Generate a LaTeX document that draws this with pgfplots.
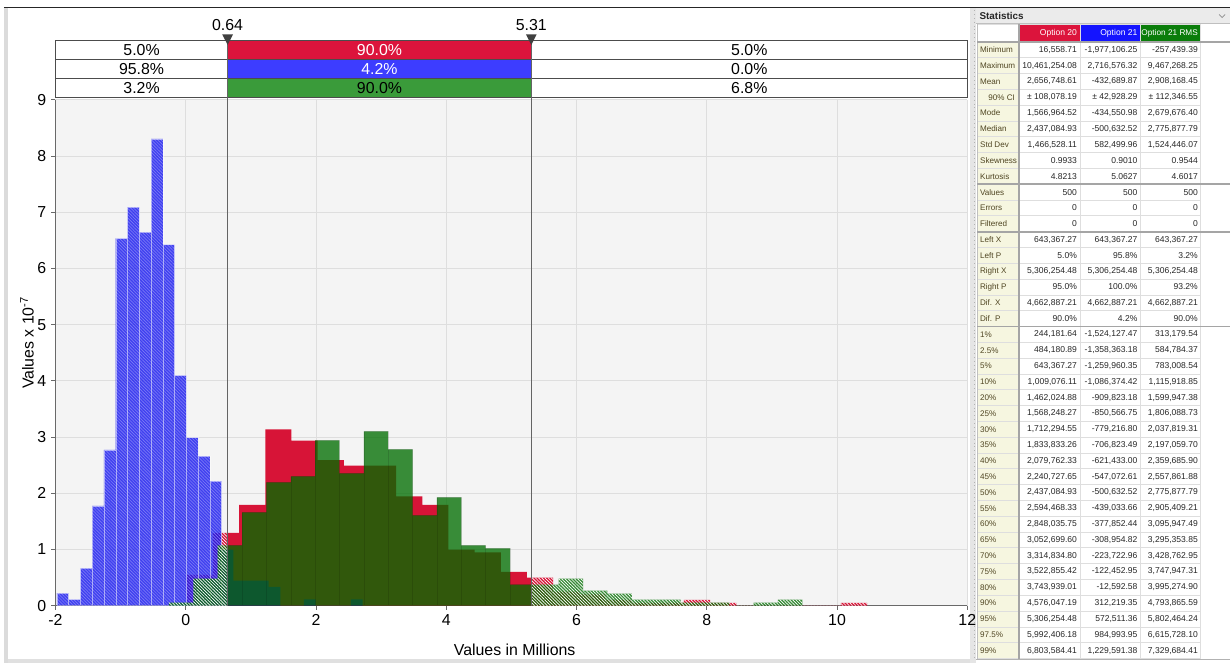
\documentclass[border=0pt]{standalone}
\usepackage{pgfplots}
\pgfplotsset{compat=1.18}
\usepackage{pgfplotstable}
\usepackage{fontspec}
\setmainfont{Liberation Sans}
\usetikzlibrary{patterns.meta}

\definecolor{c20}{RGB}{220,20,60}
\definecolor{c21}{RGB}{61,61,255}
\definecolor{c21r}{RGB}{58,155,58}
\definecolor{h20}{RGB}{220,20,60}
\definecolor{h21}{RGB}{20,20,255}
\definecolor{h21r}{RGB}{10,125,10}
\definecolor{redbar}{RGB}{215,20,55}
\definecolor{bluebar}{RGB}{20,20,240}
\definecolor{greenbar}{RGB}{0,109,0}
\definecolor{plotbg}{RGB}{244,244,244}
\definecolor{gridc}{RGB}{222,222,222}
\definecolor{axisc}{RGB}{105,105,105}
\definecolor{vlinec}{RGB}{100,100,100}
\definecolor{labbg}{RGB}{246,246,224}
\definecolor{labc}{RGB}{80,70,35}
\definecolor{tgrid}{RGB}{222,222,222}
\definecolor{tsep}{RGB}{165,165,165}

\newcommand\bigfont{\fontsize{10.6}{12}\selectfont}
\newcommand\tabfont{\fontsize{5.7}{6.5}\selectfont}
\newcommand\labfont{\fontsize{5.4}{6.5}\selectfont}

\pgfplotstableread{
x y
-1.9771 0.2216
-1.7966 0.1108
-1.6161 0.6647
-1.4355 1.7725
-1.2550 2.7696
-1.0745 6.5363
-0.8940 7.0902
-0.7134 6.6470
-0.5329 8.3088
-0.3524 6.4255
-0.1718 4.0990
0.0087 2.9912
0.1892 2.6588
0.3697 2.2157
0.5503 0.9971
0.7308 0.4431
0.9113 0.4431
1.0918 0.4431
1.2724 0.3324
1.4529 0
1.6334 0
1.8139 0.1108
1.9945 0
2.1750 0
2.3555 0
2.5361 0.1108
2.7166 0
}\bluetab

\pgfplotstableread{
x y
0.0166 0.5476
0.4183 1.2944
0.8200 1.7923
1.2217 3.1365
1.6235 2.9374
2.0252 2.5889
2.4269 2.4893
2.8286 2.4893
3.2303 1.9417
3.6321 1.7923
4.0338 0.9957
4.4355 0.9459
4.8372 0.5974
5.2389 0.4979
5.6407 0.2489
6.0424 0.1991
6.4441 0.0996
6.8458 0.0498
7.2475 0.0498
7.6493 0.0996
8.0510 0.0498
8.4527 0
8.8544 0
9.2561 0
9.6579 0
10.0596 0.0498
10.4613 0
}\redtab

\pgfplotstableread{
x y
-0.2574 0.0535
0.1166 0.4812
0.4907 1.0694
0.8647 1.6576
1.2387 2.1924
1.6127 2.2993
1.9868 2.9410
2.3608 2.3528
2.7348 3.1014
3.1088 2.7805
3.4829 1.6042
3.8569 1.9250
4.2309 1.0694
4.6049 1.0160
4.9790 0.3743
5.3530 0.3743
5.7270 0.4812
6.1010 0.2674
6.4751 0.2139
6.8491 0.1069
7.2231 0.1069
7.5971 0.0535
7.9712 0.0535
8.3452 0
8.7192 0.0535
9.0932 0.1069
9.4673 0
}\greentab

\tikzset{
  hatch/.style={postaction={fill opacity=0.14, pattern={Lines[angle=-45,distance=1.5pt,line width=0.45pt]}, pattern color=white}},
  lab/.style={anchor=west, inner sep=0pt, font=\labfont, text=labc},
  val/.style={anchor=east, inner sep=0pt, font=\tabfont, text=black!85},
}

\newcommand\strow[5]{%
  \pgfmathsetmacro\ry{49.9+(#1-1)*15.82}%
  \node[lab] at (980.5,\ry) {#2};
  \node[val] at (1078,\ry) {#3};
  \node[val] at (1138.5,\ry) {#4};
  \node[val] at (1199,\ry) {#5};
}

\begin{document}
\begin{tikzpicture}
\begin{scope}[x=0.66667pt,y=-0.66667pt]
  \path[use as bounding box, fill=white] (0,0) rectangle (1231,663);
  \fill[black!14] (4,8) rectangle (8,663);
  \fill[black!10] (971,8) rectangle (977,663);
  \draw[black!30, dotted, line width=0.6pt] (975,10) -- (975,660);
  \draw[black!85, line width=0.9pt] (4,7.5) -- (1231,7.5);
  \fill[black!12] (8,659.5) rectangle (971,663);
\end{scope}

\begin{axis}[
  at={(37.0pt,-404.0pt)}, anchor=south west,
  scale only axis, width=608.33pt, height=337.33pt,
  xmin=-2, xmax=12, ymin=0, ymax=9,
  xtick={-2,0,2,4,6,8,10,12}, ytick={0,1,2,3,4,5,6,7,8,9},
  axis x line*=bottom, axis y line*=left,
  axis line style={axisc, line width=0.75pt},
  tick align=outside, major tick length=2.67pt,
  tick style={axisc, line width=0.6pt},
  grid=major, major grid style={gridc, line width=0.6pt},
  axis background/.style={fill=plotbg},
  ticklabel style={font=\bigfont, text=black},
  /pgf/number format/assume math mode=true,
  clip=false,
]
\begin{scope}
  \clip (axis cs:-2,0) rectangle (axis cs:0.6434,9) (axis cs:5.3063,0) rectangle (axis cs:12,9);
  \addplot[ybar interval, fill=redbar, draw=none, hatch] table[x=x,y=y] {\redtab};
  \addplot[ybar interval, fill=bluebar, fill opacity=0.8, draw=white, draw opacity=0.3, line width=0.3pt, hatch] table[x=x,y=y] {\bluetab};
  \addplot[ybar interval, fill=greenbar, fill opacity=0.77, draw=none, hatch] table[x=x,y=y] {\greentab};
\end{scope}
\begin{scope}
  \clip (axis cs:0.6434,0) rectangle (axis cs:5.3063,9);
  \addplot[ybar interval, fill=redbar, draw=none] table[x=x,y=y] {\redtab};
  \addplot[ybar interval, fill=bluebar, fill opacity=0.8, draw=none] table[x=x,y=y] {\bluetab};
  \addplot[ybar interval, fill=greenbar, fill opacity=0.77, draw=black, draw opacity=0.12, line width=0.3pt] table[x=x,y=y] {\greentab};
\end{scope}

% percentage boxes
\fill[c20] (axis cs:0.6434,10.062) rectangle (axis cs:5.3063,9.724);
\fill[c21] (axis cs:0.6434,9.724) rectangle (axis cs:5.3063,9.379);
\fill[c21r] (axis cs:0.6434,9.379) rectangle (axis cs:5.3063,9.041);
\draw[black!70, line width=0.7pt] (axis cs:-2,10.062) rectangle (axis cs:12,9.041);
\draw[black!70, line width=0.7pt] (axis cs:-2,9.724) -- (axis cs:12,9.724);
\draw[black!70, line width=0.7pt] (axis cs:-2,9.379) -- (axis cs:12,9.379);
\draw[vlinec, line width=0.7pt] (axis cs:0.6434,0) -- (axis cs:0.6434,10.06);
\draw[vlinec, line width=0.7pt] (axis cs:5.3063,0) -- (axis cs:5.3063,10.06);
\fill[black!75] (axis cs:0.6434,9.979) -- ++(-3.6pt,7.1pt) -- ++(7.2pt,0pt) -- cycle;
\fill[black!75] (axis cs:5.3063,9.979) -- ++(-3.6pt,7.1pt) -- ++(7.2pt,0pt) -- cycle;
\node[font=\bigfont] at (axis cs:0.6434,10.326) {0.64};
\node[font=\bigfont] at (axis cs:5.3063,10.326) {5.31};
\node[font=\bigfont] at (axis cs:-0.678,9.893) {5.0\%};
\node[font=\bigfont, text=white] at (axis cs:2.975,9.893) {90.0\%};
\node[font=\bigfont] at (axis cs:8.653,9.893) {5.0\%};
\node[font=\bigfont] at (axis cs:-0.678,9.552) {95.8\%};
\node[font=\bigfont, text=white] at (axis cs:2.975,9.552) {4.2\%};
\node[font=\bigfont] at (axis cs:8.653,9.552) {0.0\%};
\node[font=\bigfont] at (axis cs:-0.678,9.210) {3.2\%};
\node[font=\bigfont] at (axis cs:2.975,9.210) {90.0\%};
\node[font=\bigfont] at (axis cs:8.653,9.210) {6.8\%};
\end{axis}

\begin{scope}[x=0.66667pt,y=-0.66667pt]
  \node[font=\bigfont] at (515,650) {Values in Millions};
  \node[font=\bigfont, rotate=90] at (27,343) {Values x 10\textsuperscript{-7}};

  % statistics panel
  \fill[black!8] (977,8.2) rectangle (1231,23.5);
  \draw[black!25, line width=0.5pt] (977,23.5) -- (1231,23.5);
  \node[anchor=west, inner sep=0pt, font=\fontsize{6.6}{7.5}\selectfont\bfseries, text=black!85] at (980,16) {Statistics};
  \draw[black!45, line width=0.5pt] (1220,14.5) -- (1223,17.5) -- (1226,14.5);

  \fill[h20] (1021,24) rectangle (1081,42);
  \fill[h21] (1081,24) rectangle (1141,42);
  \fill[h21r] (1141,24) rectangle (1201,42);
  \node[val, text=white] at (1078,33) {Option 20};
  \node[val, text=white] at (1138.5,33) {Option 21};
  \node[val, text=white, font=\fontsize{5.5}{6.5}\selectfont] at (1199,33) {Option 21 RMS};

  \fill[labbg] (978,42) rectangle (1020,659);
  \foreach \k in {0,...,39} {
    \draw[tgrid, line width=0.5pt] (978,{42+\k*15.82}) -- (1201,{42+\k*15.82});
  }
  \draw[tgrid, line width=0.5pt] (978,24) -- (1201,24);
  \foreach \xx in {1081,1141,1201} {
    \draw[tgrid, line width=0.5pt] (\xx,24) -- (\xx,659);
  }
  \draw[black!25, line width=0.5pt] (978,24) -- (978,659);
  \draw[tsep, line width=1.2pt] (1020,24) -- (1020,659);
  \draw[tsep, line width=1.2pt] (978,42) -- (1231,42);
  \draw[tsep, line width=1.2pt] (978,184.4) -- (1231,184.4);
  \draw[tsep, line width=1.2pt] (978,231.8) -- (1231,231.8);
  \draw[tsep, line width=1.2pt] (978,326.8) -- (1231,326.8);
  \draw[black!30, line width=0.8pt] (977,660) -- (1231,660);

  \strow{1}{Minimum}{16,558.71}{-1,977,106.25}{-257,439.39}
  \strow{2}{Maximum}{10,461,254.08}{2,716,576.32}{9,467,268.25}
  \strow{3}{Mean}{2,656,748.61}{-432,689.87}{2,908,168.45}
  \strow{4}{\hspace{5.5pt}90\% CI}{± 108,078.19}{± 42,928.29}{± 112,346.55}
  \strow{5}{Mode}{1,566,964.52}{-434,550.98}{2,679,676.40}
  \strow{6}{Median}{2,437,084.93}{-500,632.52}{2,775,877.79}
  \strow{7}{Std Dev}{1,466,528.11}{582,499.96}{1,524,446.07}
  \strow{8}{Skewness}{0.9933}{0.9010}{0.9544}
  \strow{9}{Kurtosis}{4.8213}{5.0627}{4.6017}
  \strow{10}{Values}{500}{500}{500}
  \strow{11}{Errors}{0}{0}{0}
  \strow{12}{Filtered}{0}{0}{0}
  \strow{13}{Left X}{643,367.27}{643,367.27}{643,367.27}
  \strow{14}{Left P}{5.0\%}{95.8\%}{3.2\%}
  \strow{15}{Right X}{5,306,254.48}{5,306,254.48}{5,306,254.48}
  \strow{16}{Right P}{95.0\%}{100.0\%}{93.2\%}
  \strow{17}{Dif. X}{4,662,887.21}{4,662,887.21}{4,662,887.21}
  \strow{18}{Dif. P}{90.0\%}{4.2\%}{90.0\%}
  \strow{19}{1\%}{244,181.64}{-1,524,127.47}{313,179.54}
  \strow{20}{2.5\%}{484,180.89}{-1,358,363.18}{584,784.37}
  \strow{21}{5\%}{643,367.27}{-1,259,960.35}{783,008.54}
  \strow{22}{10\%}{1,009,076.11}{-1,086,374.42}{1,115,918.85}
  \strow{23}{20\%}{1,462,024.88}{-909,823.18}{1,599,947.38}
  \strow{24}{25\%}{1,568,248.27}{-850,566.75}{1,806,088.73}
  \strow{25}{30\%}{1,712,294.55}{-779,216.80}{2,037,819.31}
  \strow{26}{35\%}{1,833,833.26}{-706,823.49}{2,197,059.70}
  \strow{27}{40\%}{2,079,762.33}{-621,433.00}{2,359,685.90}
  \strow{28}{45\%}{2,240,727.65}{-547,072.61}{2,557,861.88}
  \strow{29}{50\%}{2,437,084.93}{-500,632.52}{2,775,877.79}
  \strow{30}{55\%}{2,594,468.33}{-439,033.66}{2,905,409.21}
  \strow{31}{60\%}{2,848,035.75}{-377,852.44}{3,095,947.49}
  \strow{32}{65\%}{3,052,699.60}{-308,954.82}{3,295,353.85}
  \strow{33}{70\%}{3,314,834.80}{-223,722.96}{3,428,762.95}
  \strow{34}{75\%}{3,522,855.42}{-122,452.95}{3,747,947.31}
  \strow{35}{80\%}{3,743,939.01}{-12,592.58}{3,995,274.90}
  \strow{36}{90\%}{4,576,047.19}{312,219.35}{4,793,865.59}
  \strow{37}{95\%}{5,306,254.48}{572,511.36}{5,802,464.24}
  \strow{38}{97.5\%}{5,992,406.18}{984,993.95}{6,615,728.10}
  \strow{39}{99\%}{6,803,584.41}{1,229,591.38}{7,329,684.41}
\end{scope}
\end{tikzpicture}
\end{document}
